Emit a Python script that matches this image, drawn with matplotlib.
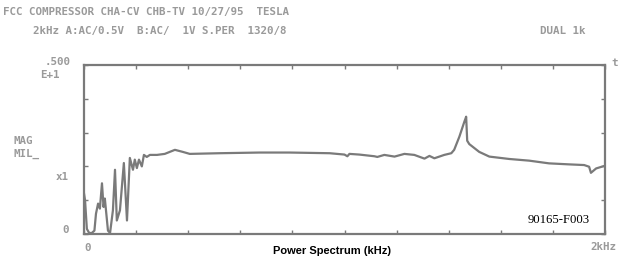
import numpy as np
import matplotlib
matplotlib.use("Agg")
import matplotlib.pyplot as plt

# spectrum trace (frequency in kHz, magnitude in display units 0..5)
freq_khz = [0.000, 0.004, 0.011, 0.020, 0.030, 0.040, 0.046, 0.054, 0.061, 0.069,
            0.075, 0.080, 0.092, 0.100, 0.111, 0.119, 0.126, 0.138, 0.153, 0.165,
            0.176, 0.188, 0.195, 0.203, 0.211, 0.222, 0.230, 0.241, 0.253, 0.280,
            0.310, 0.349, 0.379, 0.406, 0.521, 0.674, 0.789, 0.943, 1.000, 1.011,
            1.019, 1.057, 1.115, 1.126, 1.153, 1.192, 1.230, 1.268, 1.307, 1.326,
            1.345, 1.383, 1.410, 1.421, 1.441, 1.460, 1.467, 1.471, 1.479, 1.517,
            1.556, 1.632, 1.709, 1.785, 1.862, 1.920, 1.939, 1.946, 1.966, 1.996]
magnitude = [1.20, 1.00, 0.15, 0.03, 0.03, 0.10, 0.60, 0.90, 0.75, 1.50,
             0.80, 1.05, 0.10, 0.03, 0.70, 1.90, 0.40, 0.70, 2.10, 0.40,
             2.25, 1.90, 2.20, 1.95, 2.20, 2.00, 2.34, 2.28, 2.34, 2.34,
             2.37, 2.49, 2.43, 2.37, 2.39, 2.41, 2.41, 2.39, 2.35, 2.30,
             2.37, 2.35, 2.30, 2.28, 2.34, 2.29, 2.37, 2.34, 2.23, 2.31,
             2.24, 2.34, 2.39, 2.49, 2.88, 3.32, 3.47, 2.76, 2.66, 2.43,
             2.29, 2.22, 2.17, 2.09, 2.06, 2.04, 1.99, 1.81, 1.94, 2.01]

header_1 = "FCC COMPRESSOR CHA-CV CHB-TV 10/27/95  TESLA"
header_2 = "2kHz A:AC/0.5V  B:AC/  1V S.PER  1320/8"
header_3 = "DUAL 1k"
x_title = "Power Spectrum (kHz)"
fig_id = "90165-F003"

gray = "#7a7a7a"
txt = "#9a9a9a"
mono = dict(family="DejaVu Sans Mono", fontsize=7.8, fontweight="bold", color=txt, va="center")

fig = plt.figure(figsize=(6.24, 2.58), dpi=100)
ax = fig.add_axes([84 / 624, 24 / 258, 521 / 624, 169 / 258])

ax.plot(freq_khz, magnitude, color=gray, lw=1.6)
ax.set_xlim(0, 2)
ax.set_ylim(0, 5)
ax.set_xticks(np.arange(0, 2.01, 0.2))
ax.set_yticks(np.arange(0, 5.01, 1))
ax.tick_params(direction="in", length=3, width=1, color=gray,
               top=True, right=True, labelleft=False, labelbottom=False)
for s in ax.spines.values():
    s.set_color(gray)
    s.set_linewidth(1.6)

# header text
fig.text(3 / 624, 1 - 12 / 258, header_1, **mono)
fig.text(33 / 624, 1 - 31 / 258, header_2, **mono)
fig.text(540 / 624, 1 - 31 / 258, header_3, **mono)

# y axis annotations
fig.text(71 / 624, 1 - 62 / 258, ".500", ha="right", **mono)
fig.text(60 / 624, 1 - 75 / 258, "E+1", ha="right", **mono)
fig.text(14 / 624, 1 - 141 / 258, "MAG", **mono)
fig.text(14 / 624, 1 - 154 / 258, "MIL_", **mono)
fig.text(69 / 624, 1 - 177 / 258, "x1", ha="right", **mono)
fig.text(69 / 624, 1 - 230 / 258, "0", ha="right", **mono)
fig.text(611 / 624, 1 - 63 / 258, "t", **mono)

# x axis annotations
fig.text(88 / 624, 1 - 248 / 258, "0", ha="center", **mono)
fig.text(603 / 624, 1 - 247 / 258, "2kHz", ha="center", **mono)
fig.text(332 / 624, 1 - 251 / 258, x_title, family="Liberation Sans", fontsize=8,
         fontweight="bold", color="black", va="center", ha="center")
fig.text(590 / 624, 1 - 220 / 258, fig_id, family="Liberation Serif", fontsize=9.2,
         color="black", va="center", ha="right")

fig.savefig("out.png", dpi=100)
